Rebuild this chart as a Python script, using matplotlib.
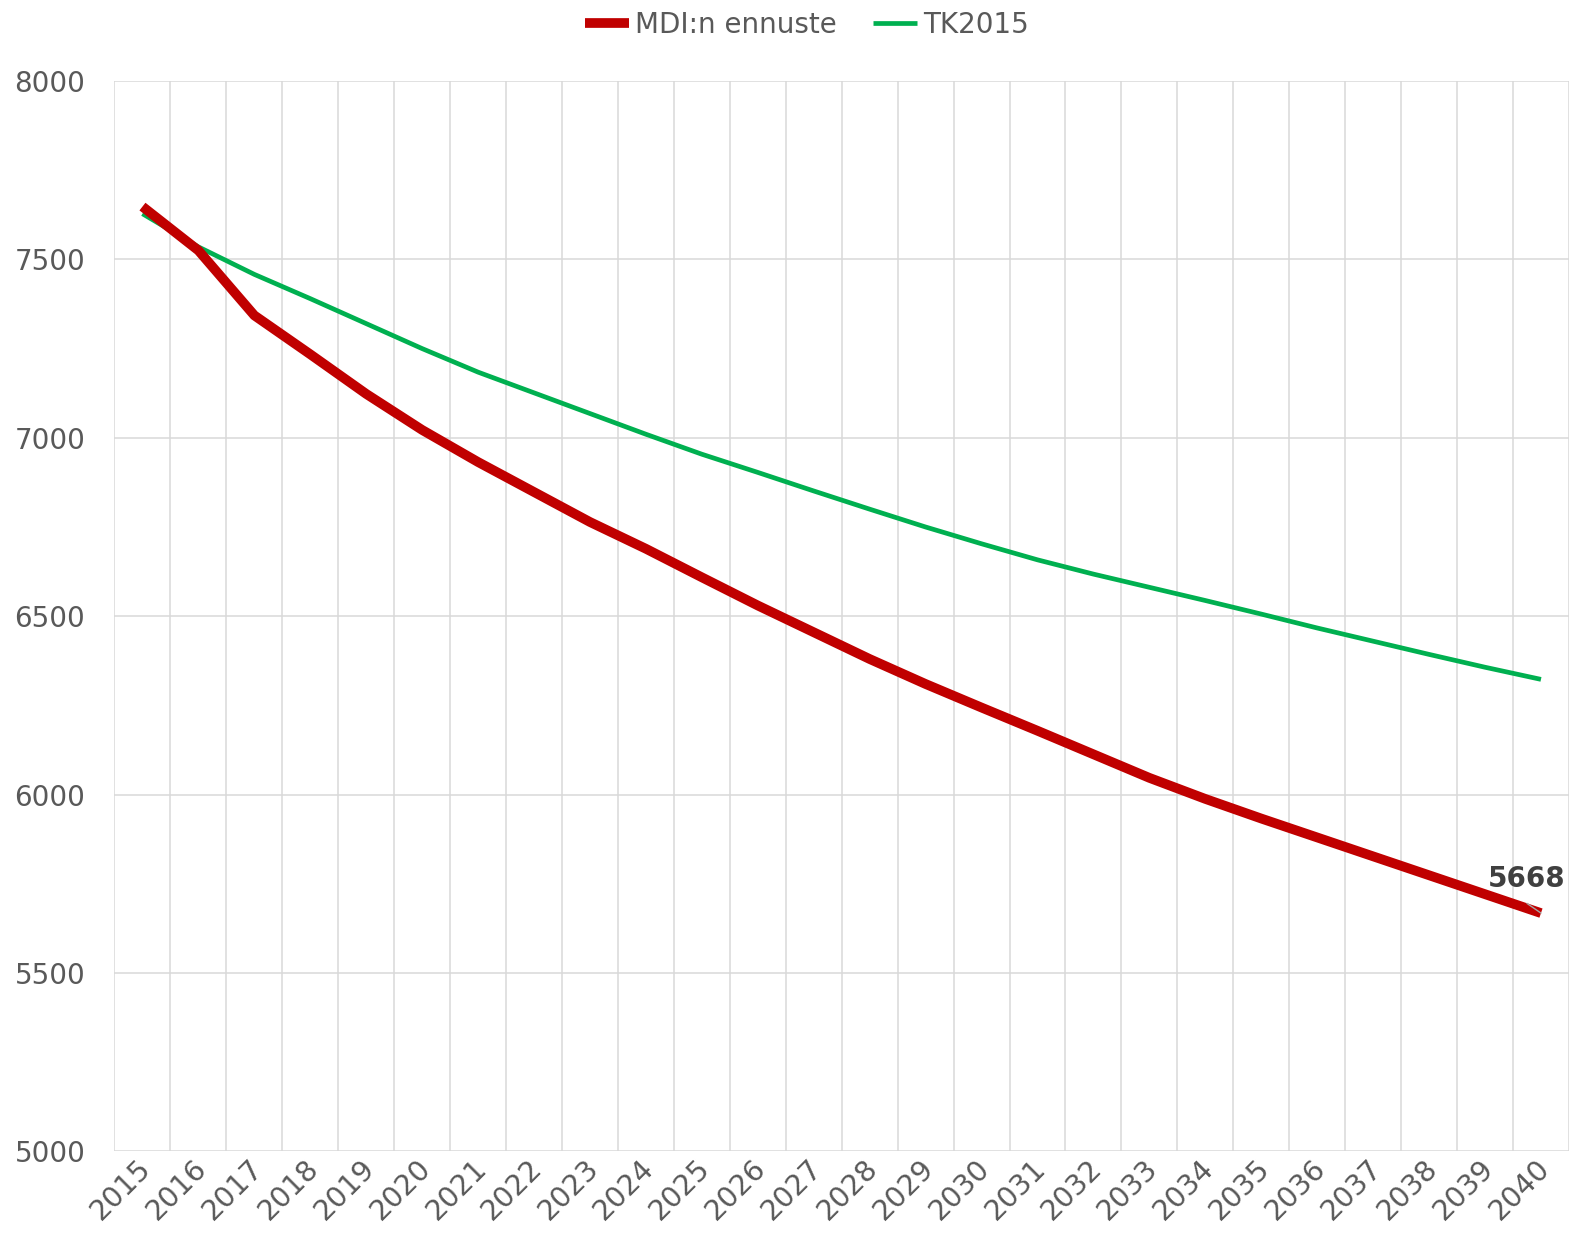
import matplotlib
matplotlib.use("Agg")
import matplotlib.pyplot as plt
import matplotlib.transforms as mtransforms

years = ["2015", "2016", "2017", "2018", "2019", "2020", "2021", "2022", "2023",
         "2024", "2025", "2026", "2027", "2028", "2029", "2030", "2031", "2032",
         "2033", "2034", "2035", "2036", "2037", "2038", "2039", "2040"]
mdi = [7648, 7525, 7343, 7234, 7123, 7022, 6932, 6848, 6764, 6689, 6609, 6530, 6455,
       6380, 6310, 6244, 6179, 6113, 6047, 5988, 5933, 5880, 5827, 5774, 5721, 5668]
tk2015 = [7628, 7535, 7458, 7390, 7320, 7250, 7184, 7126, 7068, 7010, 6954, 6903, 6851,
          6800, 6750, 6703, 6658, 6618, 6581, 6544, 6506, 6467, 6430, 6393, 6357, 6323]
yticks = [5000, 5500, 6000, 6500, 7000, 7500, 8000]

plt.rcParams['font.family'] = ['DejaVu Sans']
txt_col = '#595959'
grid_col = '#D9D9D9'

fig = plt.figure(figsize=(15.88, 12.42), dpi=100)
ax = fig.add_axes([0.0721, 0.0729, 0.9159, 0.8619])

x = list(range(len(years)))
l1, = ax.plot(x, mdi, color='#C00000', lw=7.0, solid_capstyle='butt',
              solid_joinstyle='round', label='MDI:n ennuste', zorder=4)
l2, = ax.plot(x, tk2015, color='#00B050', lw=3.4, solid_capstyle='butt',
              solid_joinstyle='round', label='TK2015', zorder=3)

ax.set_xlim(-0.5, len(years) - 0.5)
ax.set_ylim(5000, 8000)

# category gridlines between the years (Excel style)
ax.set_xticks([i - 0.5 for i in range(len(years) + 1)], minor=True)
ax.set_xticks(x)
ax.set_xticklabels(years, rotation=45, ha='right', va='top', fontsize=20.5, color=txt_col)
ax.set_yticks(yticks)
ax.set_yticklabels([str(v) for v in yticks], fontsize=20, color=txt_col)
ax.grid(True, which='minor', axis='x', color=grid_col, lw=1.1)
ax.grid(True, which='major', axis='y', color=grid_col, lw=1.1)
ax.tick_params(axis='x', which='both', length=0, pad=2)
ax.tick_params(axis='y', length=0, pad=21)
for s in ax.spines.values():
    s.set_visible(False)

shift = mtransforms.ScaledTranslation(0.14, 0, fig.dpi_scale_trans)
for lab in ax.get_xticklabels():
    lab.set_transform(lab.get_transform() + shift)

# data label on the last point
ax.annotate(str(mdi[-1]), xy=(x[-1], mdi[-1]), xytext=(-10, 19), textcoords='offset points',
            ha='center', va='baseline', fontsize=20, fontweight='bold', color='#404040',
            arrowprops=dict(arrowstyle='-', color='#A6A6A6', lw=1.0, shrinkA=10, shrinkB=0,
                            relpos=(0.3, 0)),
            zorder=6)

fig.legend(handles=[l1, l2], loc='center', bbox_to_anchor=(0.508, 0.980), ncol=2,
           frameon=False, fontsize=20, handlelength=1.6, handletextpad=0.2,
           columnspacing=1.3, labelcolor=txt_col)

fig.savefig('out.png', dpi=100)
